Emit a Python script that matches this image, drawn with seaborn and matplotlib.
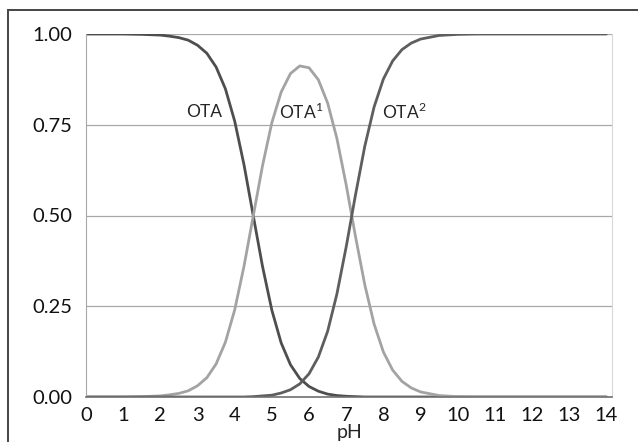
import numpy as np
import pandas as pd
import matplotlib.pyplot as plt
import seaborn as sns
from matplotlib.patches import Rectangle

# pH grid and species fractions
ph = [0, 0.5, 1, 1.5, 2, 2.25, 2.5, 2.75, 3, 3.25, 3.5, 3.75, 4, 4.25, 4.5, 4.75,
      5, 5.25, 5.5, 5.75, 6, 6.25, 6.5, 6.75, 7, 7.25, 7.5, 7.75, 8, 8.25, 8.5,
      8.75, 9, 9.5, 10, 10.5, 11, 12, 13, 14]
ota = [1.000, 1.000, 1.000, 0.999, 0.997, 0.994, 0.990, 0.983, 0.969, 0.947, 0.909,
       0.849, 0.760, 0.640, 0.499, 0.359, 0.239, 0.149, 0.089, 0.051, 0.029, 0.016,
       0.008, 0.004, 0.002, 0.001, 0.000, 0.000, 0.000, 0.000, 0.000, 0.000, 0.000,
       0.000, 0.000, 0.000, 0.000, 0.000, 0.000, 0.000]
ota1 = [0.000, 0.000, 0.000, 0.001, 0.003, 0.006, 0.010, 0.017, 0.031, 0.053, 0.091,
        0.151, 0.240, 0.360, 0.499, 0.638, 0.756, 0.840, 0.891, 0.912, 0.907, 0.874,
        0.810, 0.712, 0.584, 0.442, 0.309, 0.201, 0.124, 0.074, 0.043, 0.025, 0.014,
        0.004, 0.001, 0.000, 0.000, 0.000, 0.000, 0.000]
ota2 = [0.000, 0.000, 0.000, 0.000, 0.000, 0.000, 0.000, 0.000, 0.000, 0.000, 0.000,
        0.000, 0.000, 0.000, 0.001, 0.003, 0.005, 0.011, 0.020, 0.036, 0.064, 0.110,
        0.181, 0.284, 0.414, 0.557, 0.691, 0.799, 0.876, 0.926, 0.957, 0.975, 0.986,
        0.996, 0.999, 1.000, 1.000, 1.000, 1.000, 1.000]

species = ['OTA', 'OTA1', 'OTA2']
colors = {'OTA': '#4e4e4e', 'OTA1': '#a3a3a3', 'OTA2': '#5e5e5e'}

df = pd.DataFrame({
    'pH': ph * 3,
    'fraction': ota + ota1 + ota2,
    'species': [s for s in species for _ in ph],
})

sns.set_style('white')
plt.rcParams['font.family'] = ['Lato', 'DejaVu Sans']

fig = plt.figure(figsize=(6.38, 4.42), dpi=100)
ax = fig.add_axes([86 / 638, 45 / 442, 526 / 638, 363 / 442])

# outer frame (only left and top edges visible in the crop)
fig.patches.append(Rectangle((8 / 638, -0.1), 1.2, (442 - 10) / 442 + 0.1,
                             transform=fig.transFigure, fill=False,
                             edgecolor='#444444', linewidth=1.4))

sns.lineplot(data=df, x='pH', y='fraction', hue='species', palette=colors,
             linewidth=2.0, legend=False, ax=ax, sort=True)

ax.set_xlim(0, 14.15)
ax.set_ylim(0, 1)
ax.set_xticks(range(0, 15))
ax.set_yticks([0, 0.25, 0.5, 0.75, 1.0])
ax.set_yticklabels(['0.00', '0.25', '0.50', '0.75', '1.00'])
ax.yaxis.grid(True, color='#a8a8a8', linewidth=0.9)
ax.xaxis.grid(False)

ax.spines['top'].set_visible(False)
ax.spines['right'].set_color('#d8d8d8')
ax.spines['left'].set_color('#a8a8a8')
ax.spines['bottom'].set_color('#707070')
ax.spines['bottom'].set_linewidth(1.2)

ax.tick_params(axis='both', labelsize=14.5, colors='#111111', length=4, width=0.8)
ax.tick_params(axis='x', direction='out', color='#888888', pad=3)
ax.tick_params(axis='y', direction='out', color='#a8a8a8', pad=6)
ax.set_xlabel('pH', fontsize=14, labelpad=0)
ax.set_ylabel('')

ax.text(3.18, 0.785, 'OTA', fontsize=12.5, ha='center', va='center')
ax.text(5.8, 0.785, 'OTA$^{\\mathregular{1}}$', fontsize=12.5, ha='center', va='center')
ax.text(8.55, 0.785, 'OTA$^{\\mathregular{2}}$', fontsize=12.5, ha='center', va='center')

fig.savefig('out.png', dpi=100)
